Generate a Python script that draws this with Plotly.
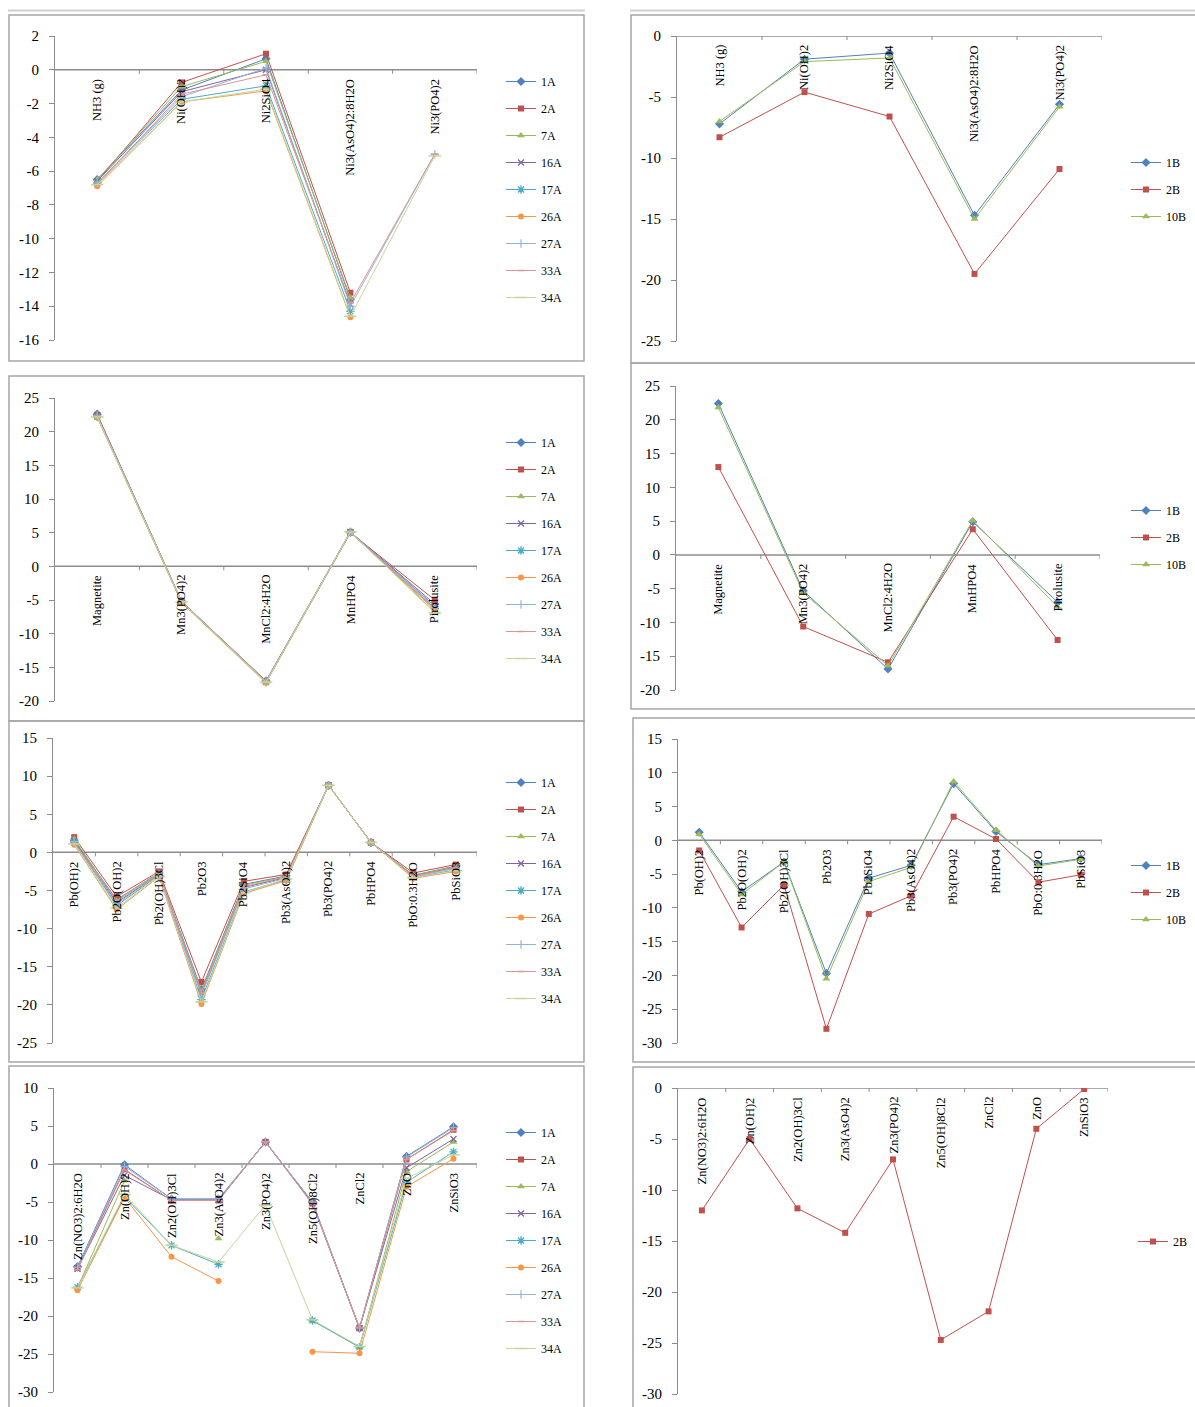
import plotly.graph_objects as go

W, H = 1195, 1407
FONT = "Liberation Serif"

# ---------------- data ----------------
ni_cats = ["NH3 (g)", "Ni(OH)2", "Ni2SiO4", "Ni3(AsO4)2:8H2O", "Ni3(PO4)2"]
ni_a = {
    "1A":  [-6.5, -1.2, 0.65, -13.6, None],
    "2A":  [-6.6, -0.75, 0.95, -13.2, None],
    "7A":  [-6.5, -1.0, 0.5, -13.5, None],
    "16A": [-6.6, -1.3, 0.0, -13.9, None],
    "17A": [-6.7, -1.75, -0.95, -14.3, None],
    "26A": [-6.9, -1.9, -1.25, -14.65, None],
    "27A": [-6.7, -1.6, 0.1, -14.0, -5.0],
    "33A": [-6.8, -1.45, -0.3, -13.8, -5.0],
    "34A": [-6.8, -1.9, -1.15, -14.6, -5.1],
}
ni_b = {
    "1B":  [-7.2, -1.9, -1.4, -14.7, -5.6],
    "2B":  [-8.3, -4.6, -6.6, -19.5, -10.9],
    "10B": [-7.0, -2.1, -1.8, -15.0, -5.8],
}
ni_a_ticks = [2, 0, -2, -4, -6, -8, -10, -12, -14, -16]
ni_b_ticks = [0, -5, -10, -15, -20, -25]

mn_cats = ["Magnetite", "Mn3(PO4)2", "MnCl2:4H2O", "MnHPO4", "Pirolusite"]
mn_a = {
    "1A":  [22.6, -5.2, -17.0, 5.1, -5.6],
    "2A":  [22.5, -5.3, -17.1, 5.0, -5.0],
    "7A":  [22.3, -5.3, -17.2, 5.1, -6.8],
    "16A": [22.4, -5.2, -17.1, 5.1, -5.9],
    "17A": [22.2, -5.3, -17.2, 5.0, -6.3],
    "26A": [22.1, -5.4, -17.3, 5.0, -6.5],
    "27A": [22.4, -5.2, -17.1, 5.1, -6.0],
    "33A": [22.3, -5.3, -17.1, 5.0, -6.2],
    "34A": [22.2, -5.3, -17.2, 5.1, -6.9],
}
mn_b = {
    "1B":  [22.4, -5.3, -16.9, 4.9, -7.0],
    "2B":  [13.0, -10.6, -15.9, 3.8, -12.6],
    "10B": [21.8, -5.6, -16.4, 5.1, -7.7],
}
mn_ticks = [25, 20, 15, 10, 5, 0, -5, -10, -15, -20]

pb_cats = ["Pb(OH)2", "Pb2O(OH)2", "Pb2(OH)3Cl", "Pb2O3", "Pb2SiO4",
           "Pb3(AsO4)2", "Pb3(PO4)2", "PbHPO4", "PbO:0.3H2O", "PbSiO3"]
pb_a = {
    "1A":  [1.6, -6.2, -2.7, -18.0, -4.2, -3.1, 8.8, 1.3, -3.0, -1.8],
    "2A":  [2.0, -5.8, -2.5, -17.0, -3.8, -2.9, 8.8, 1.3, -2.7, -1.6],
    "7A":  [1.8, -6.4, -2.8, -18.2, -4.3, -3.2, 8.8, 1.3, -3.0, -1.9],
    "16A": [1.5, -6.6, -2.9, -18.5, -4.6, -3.3, 8.8, 1.3, -3.1, -2.0],
    "17A": [1.3, -7.0, -3.0, -19.3, -5.2, -3.6, 8.8, 1.3, -3.3, -2.3],
    "26A": [1.0, -7.5, -3.2, -19.9, -5.4, -3.7, 8.8, 1.3, -3.4, -2.5],
    "27A": [1.4, -6.8, -2.9, -18.8, -4.8, -3.4, 8.8, 1.3, -3.2, -2.1],
    "33A": [1.2, -6.3, -2.6, -18.4, -4.5, -3.2, 8.8, 1.3, -3.1, -2.0],
    "34A": [1.1, -7.3, -3.1, -19.6, -5.3, -3.5, 8.8, 1.3, -3.3, -2.4],
}
pb_b = {
    "1B":  [1.2, -7.6, -3.2, -19.7, -5.6, -3.7, 8.4, 1.3, -3.6, -2.7],
    "2B":  [-1.5, -12.9, -6.6, -27.9, -10.9, -8.2, 3.5, 0.2, -6.2, -5.1],
    "10B": [0.9, -8.0, -3.2, -20.5, -6.1, -4.0, 8.7, 1.5, -3.8, -2.8],
}
pb_a_ticks = [15, 10, 5, 0, -5, -10, -15, -20, -25]
pb_b_ticks = [15, 10, 5, 0, -5, -10, -15, -20, -25, -30]

zn_cats = ["Zn(NO3)2:6H2O", "Zn(OH)2", "Zn2(OH)3Cl", "Zn3(AsO4)2", "Zn3(PO4)2",
           "Zn5(OH)8Cl2", "ZnCl2", "ZnO", "ZnSiO3"]
zn_a = {
    "1A":  [-13.5, -0.1, -4.6, -4.6, 2.9, -5.0, -21.6, 1.0, 4.9],
    "2A":  [-13.7, -0.7, -4.8, -4.8, 2.9, -5.2, -21.6, 0.6, 4.5],
    "7A":  [-16.3, -2.2, None, -9.8, None, -20.6, -24.1, -1.0, 2.9],
    "16A": [-13.8, -1.5, -4.7, -4.7, 2.9, -5.1, -21.6, -0.5, 3.3],
    "17A": [-16.2, -4.3, -10.7, -13.2, None, -20.6, -24.1, -2.4, 1.6],
    "26A": [-16.6, -4.4, -12.2, -15.4, None, -24.7, -24.9, -3.0, 0.7],
    "27A": [-13.6, -0.3, -4.6, -4.6, 2.9, -5.0, -21.6, 0.9, 4.8],
    "33A": [-13.9, -0.8, -4.8, -4.8, 2.9, -5.3, -21.5, 0.6, 4.4],
    "34A": [-16.3, -4.0, -10.7, -12.9, -5.4, -20.5, -24.0, -1.9, 1.2],
}
zn_b = {
    "2B": [-12.0, -5.0, -11.8, -14.2, -7.0, -24.7, -21.9, -4.0, -0.1],
}
zn_a_ticks = [10, 5, 0, -5, -10, -15, -20, -25, -30]
zn_b_ticks = [0, -5, -10, -15, -20, -25, -30]

# colour, marker symbol, marker size, marker outline width
series_style = {
    "1A":  ("#4F81BD", "diamond", 7, 0),
    "2A":  ("#C0504D", "square", 6, 0),
    "7A":  ("#9BBB59", "triangle-up", 7, 0),
    "16A": ("#8064A2", "x-thin-open", 6, 1.3),
    "17A": ("#4BACC6", "asterisk-open", 7, 1.3),
    "26A": ("#F79646", "circle", 6, 0),
    "27A": ("#95B3D7", "cross-thin-open", 6, 1.2),
    "33A": ("#D99694", "line-ew-open", 5, 1.5),
    "34A": ("#C3D69B", "line-ew-open", 9, 1.5),
    "1B":  ("#4F81BD", "diamond", 7, 0),
    "2B":  ("#C0504D", "square", 6, 0),
    "10B": ("#9BBB59", "triangle-up", 7, 0),
}

# plot-area boxes in pixels (left, top, right, bottom), legend anchor (left, top)
panels = [
    dict(cats=ni_cats, data=ni_a, ticks=ni_a_ticks, box=(55, 36, 477, 340), leg=(501, 67)),
    dict(cats=ni_cats, data=ni_b, ticks=ni_b_ticks, box=(677, 36, 1102, 341), leg=(1126, 148)),
    dict(cats=mn_cats, data=mn_a, ticks=mn_ticks, box=(55, 398, 477, 701), leg=(501, 428)),
    dict(cats=mn_cats, data=mn_b, ticks=mn_ticks, box=(676, 386, 1100, 690), leg=(1126, 496)),
    dict(cats=pb_cats, data=pb_a, ticks=pb_a_ticks, box=(53, 738, 477, 1043), leg=(501, 768)),
    dict(cats=pb_cats, data=pb_b, ticks=pb_b_ticks, box=(678, 739, 1102, 1043), leg=(1126, 851)),
    dict(cats=zn_cats, data=zn_a, ticks=zn_a_ticks, box=(54, 1088, 477, 1392), leg=(501, 1118)),
    dict(cats=zn_cats, data=zn_b, ticks=zn_b_ticks, box=(678, 1088, 1108, 1394), leg=(1133, 1227)),
]

# chart-area frames (left, top, right, bottom) in pixels
frames = [
    (9, 15, 584, 361), (631, 15, 1205, 363),
    (9, 376, 584, 721), (631, 363, 1205, 709),
    (9, 721, 584, 1062), (633, 718, 1205, 1062),
    (9, 1066, 584, 1412), (633, 1067, 1205, 1412),
]


def fx(px):
    return px / W


def fy(py):
    return 1 - py / H


fig = go.Figure()
layout = dict(
    width=W, height=H,
    margin=dict(l=0, r=0, t=0, b=0, pad=0, autoexpand=False),
    paper_bgcolor="white", plot_bgcolor="white",
    font=dict(family=FONT, size=12, color="black"),
    showlegend=True,
)
shapes = []
annotations = []

for n, p in enumerate(panels, start=1):
    sfx = "" if n == 1 else str(n)
    xa, ya = f"x{sfx}", f"y{sfx}"
    leg = f"legend{sfx}"
    cats = p["cats"]
    ncat = len(cats)
    xs = list(range(ncat))
    for name, vals in p["data"].items():
        color, symbol, size, lw = series_style[name]
        fig.add_trace(go.Scatter(
            x=xs, y=vals, name=name, mode="lines+markers",
            xaxis=xa, yaxis=ya, legend=leg, legendgroup=f"{n}-{name}",
            line=dict(color=color, width=1),
            marker=dict(symbol=symbol, size=size, color=color,
                        line=dict(color=color, width=lw)),
            connectgaps=False, hoverinfo="x+y+name",
        ))
    l, t, r, b = p["box"]
    ticks = p["ticks"]
    layout[f"xaxis{sfx}"] = dict(
        domain=[fx(l), fx(r)], anchor=ya, range=[-0.5, ncat - 0.5],
        showgrid=False, zeroline=False, showline=False,
        showticklabels=False, ticks="", automargin=False,
    )
    layout[f"yaxis{sfx}"] = dict(
        domain=[fy(b), fy(t)], anchor=xa, range=[min(ticks), max(ticks)],
        showgrid=False, zeroline=False, showline=True,
        linecolor="#8C8C8C", linewidth=1,
        ticks="outside", ticklen=5, tickcolor="#8C8C8C",
        tickvals=ticks, ticktext=[str(v) for v in ticks],
        tickfont=dict(family=FONT, size=15, color="black"),
        ticklabelstandoff=7, automargin=False,
    )
    lx, ly = p["leg"]
    layout[leg] = dict(
        x=fx(lx), y=fy(ly), xanchor="left", yanchor="top",
        traceorder="grouped", tracegroupgap=8,
        bgcolor="rgba(0,0,0,0)", borderwidth=0,
        font=dict(family=FONT, size=12, color="black"),
        itemwidth=30,
    )
    # horizontal category axis crossing at zero
    shapes.append(dict(type="line", xref=f"{xa} domain", yref=ya,
                       x0=0, x1=1, y0=0, y1=0,
                       line=dict(color="#8C8C8C", width=1.5), layer="below"))
    for k in range(ncat):
        shapes.append(dict(type="line", xref=xa, yref=ya,
                           x0=k + 0.5, x1=k + 0.5,
                           ysizemode="pixel", yanchor=0, y0=0, y1=-4,
                           line=dict(color="#8C8C8C", width=1), layer="below"))
    for k, c in enumerate(cats):
        annotations.append(dict(
            x=k, y=0, xref=xa, yref=ya, text=c, showarrow=False,
            textangle=-90, xanchor="center", yanchor="top", yshift=-7,
            font=dict(family=FONT, size=12.5, color="black"),
        ))

for (l, t, r, b) in frames:
    shapes.append(dict(type="rect", xref="paper", yref="paper",
                       x0=fx(l), x1=fx(r), y0=fy(b), y1=fy(t),
                       line=dict(color="#A6A6A6", width=1.5), layer="below"))

# light rule above the top row of charts
for (l, r) in [(8, 585), (630, 1195)]:
    shapes.append(dict(type="line", xref="paper", yref="paper",
                       x0=fx(l), x1=fx(r), y0=fy(10.5), y1=fy(10.5),
                       line=dict(color="#D0D0D0", width=2)))

layout["shapes"] = shapes
layout["annotations"] = annotations
fig.update_layout(**layout)
fig.write_html("out.html")
